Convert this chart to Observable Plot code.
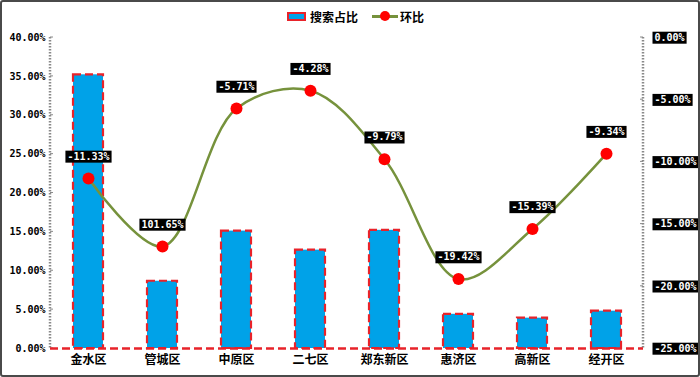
<!DOCTYPE html>
<html><head><meta charset="utf-8">
<script src="https://cdn.jsdelivr.net/npm/d3@7"></script>
<script src="https://cdn.jsdelivr.net/npm/@observablehq/plot@0.6"></script>
<style>
html,body{margin:0;padding:0;background:#fff;}
#wrap{position:relative;width:700px;height:377px;overflow:hidden;background:#fff;}
#border{position:absolute;left:0;top:0;width:700px;height:377px;box-sizing:border-box;border:2px solid #4a4a4a;border-radius:3px;pointer-events:none;}
#legend{position:absolute;top:8px;left:287px;display:flex;align-items:center;font-family:"Noto Sans CJK SC",sans-serif;font-weight:bold;font-size:12px;color:#000;}
.sw-bar{width:15px;height:5px;background:#00A2E8;border:2px solid #e8232a;margin-right:4px;}
.sw-line{position:relative;width:26px;height:3px;background:#76923C;margin:0 2px 0 14px;}
.sw-line::after{content:"";position:absolute;left:8px;top:-4px;width:10px;height:10px;border-radius:50%;background:#ff0000;}
</style></head>
<body>
<div id="wrap">
  <div id="chart"></div>
  <div id="legend"><span class="sw-bar"></span><span>搜索占比</span><span class="sw-line"></span><span>环比</span></div>
  <div id="border"></div>
</div>
<script>
const categories = ["金水区","管城区","中原区","二七区","郑东新区","惠济区","高新区","经开区"];
const shareValues = [35.2, 8.65, 15.1, 12.65, 15.2, 4.4, 3.9, 4.8];
const momValues = [-11.33, -16.8, -5.71, -4.28, -9.79, -19.42, -15.39, -9.34];
const momLabels = ["-11.33%","101.65%","-5.71%","-4.28%","-9.79%","-19.42%","-15.39%","-9.34%"];
const leftTicks = [0, 5, 10, 15, 20, 25, 30, 35, 40];
const rightTicks = [0, -5, -10, -15, -20, -25];

// map right-axis domain [-25, 0] onto left-axis domain [0, 40]
const toLeft = v => (v + 25) * 40 / 25;

const data = categories.map((c, i) => ({cat: c, share: shareValues[i], mom: momValues[i], label: momLabels[i]}));
const mono = "DejaVu Sans Mono";
const NS = "http://www.w3.org/2000/svg";

// dotted vertical axis lines with small ticks, at the frame edges
function axisLines(index, scales, values, dims) {
  const g = document.createElementNS(NS, "g");
  const x0 = dims.marginLeft, x1 = dims.width - dims.marginRight;
  const yTop = dims.marginTop, yBot = dims.height - dims.marginBottom;
  for (const x of [x0, x1]) {
    const l = document.createElementNS(NS, "line");
    l.setAttribute("x1", x); l.setAttribute("x2", x);
    l.setAttribute("y1", yTop); l.setAttribute("y2", yBot);
    l.setAttribute("stroke", "#8a8a8a"); l.setAttribute("stroke-width", 2.5);
    l.setAttribute("stroke-dasharray", "1.5,1.5");
    g.appendChild(l);
  }
  const addTick = (x, y, d) => {
    const t = document.createElementNS(NS, "line");
    t.setAttribute("x1", x); t.setAttribute("x2", x + d);
    t.setAttribute("y1", y); t.setAttribute("y2", y);
    t.setAttribute("stroke", "#8a8a8a"); t.setAttribute("stroke-width", 1);
    g.appendChild(t);
  };
  leftTicks.forEach(v => addTick(x0, scales.y(v), 3));
  rightTicks.forEach(v => addTick(x1, scales.y(toLeft(v)), -3));
  return g;
}

const chart = Plot.plot({
  width: 700, height: 377,
  marginLeft: 50, marginRight: 57, marginTop: 37, marginBottom: 29,
  style: {background: "transparent", fontFamily: mono},
  x: {domain: categories, paddingInner: 0.6, paddingOuter: 0.3, axis: null},
  y: {domain: [0, 40], axis: null},
  marks: [
    axisLines,
    Plot.barY(data, {x: "cat", y: "share", fill: "#00A2E8", stroke: "#e8232a", strokeWidth: 2.2, strokeDasharray: "8,4"}),
    Plot.ruleY([0], {stroke: "#e8232a", strokeWidth: 2.5, strokeDasharray: "8,4"}),
    Plot.line(data, {x: "cat", y: d => toLeft(d.mom), curve: "catmull-rom", stroke: "#76923C", strokeWidth: 2.5}),
    Plot.dot(data, {x: "cat", y: d => toLeft(d.mom), r: 6, fill: "#ff0000", stroke: "none"}),
    Plot.text(data, {x: "cat", y: d => toLeft(d.mom), text: "label", dy: -22, fill: "#fff", fontWeight: "bold", fontSize: 10, fontFamily: mono, className: "boxed"}),
    Plot.axisY(leftTicks, {anchor: "left", tickSize: 0, tickPadding: 5, tickFormat: d => d.toFixed(2) + "%", fontWeight: "bold", fontSize: 10, fontFamily: mono, fill: "#000", label: null}),
    Plot.text(rightTicks, {y: toLeft, text: d => d.toFixed(2) + "%", frameAnchor: "right", dx: 11, textAnchor: "start", fill: "#fff", fontWeight: "bold", fontSize: 10, fontFamily: mono, className: "boxed"}),
    Plot.axisX({tickSize: 0, tickPadding: 7, fontWeight: "bold", fontSize: 12, fontFamily: "Noto Sans CJK SC", fill: "#000", label: null})
  ]
});
document.getElementById("chart").appendChild(chart);

// black background boxes behind the white labels
document.querySelectorAll("g.boxed text").forEach(t => {
  const bb = t.getBBox();
  const r = document.createElementNS(NS, "rect");
  r.setAttribute("x", bb.x - 2);
  r.setAttribute("y", bb.y);
  r.setAttribute("width", bb.width + 4);
  r.setAttribute("height", bb.height + 1);
  r.setAttribute("fill", "#000");
  const tr = t.getAttribute("transform");
  if (tr) r.setAttribute("transform", tr);
  t.parentNode.insertBefore(r, t);
});
</script>
</body></html>
